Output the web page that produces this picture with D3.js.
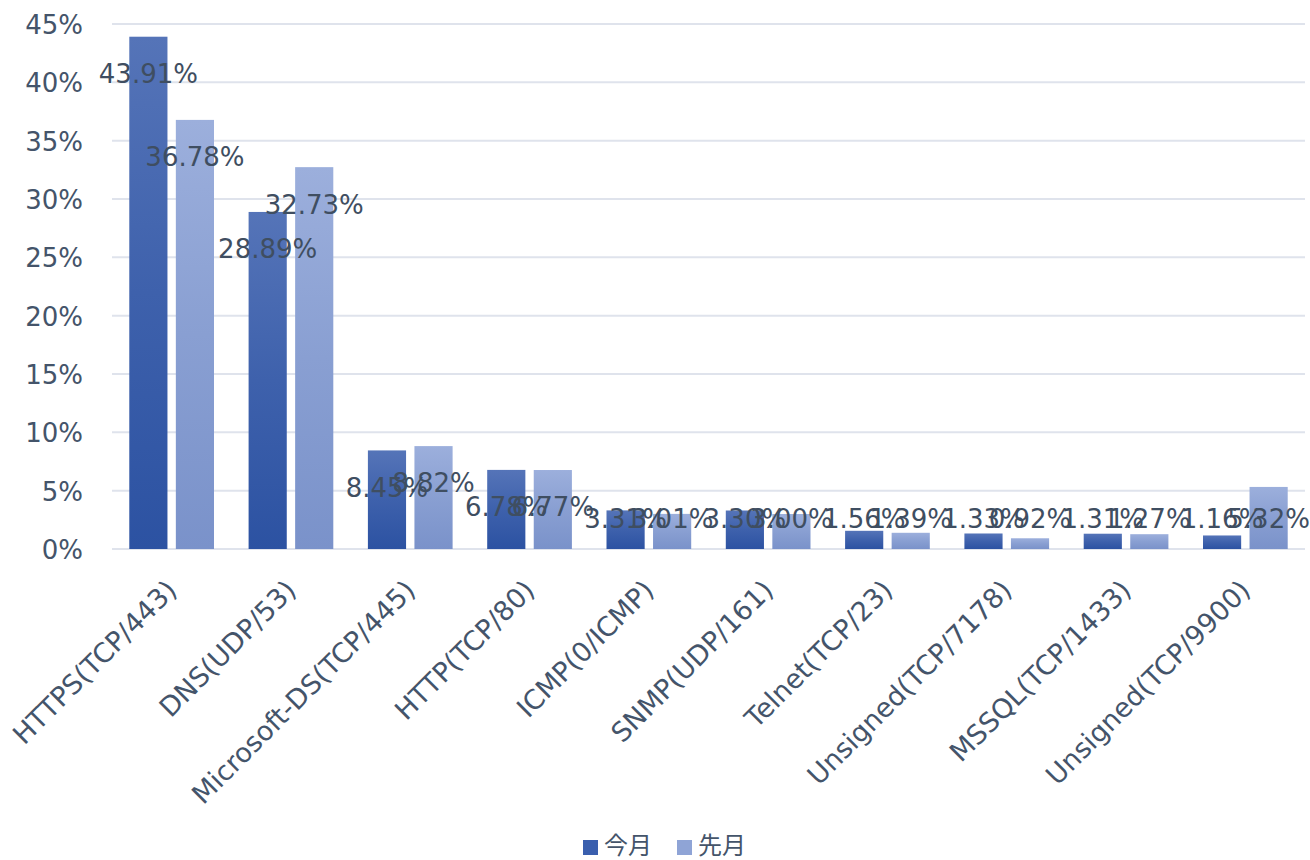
<!DOCTYPE html>
<html><head><meta charset="utf-8">
<script src="https://cdn.jsdelivr.net/npm/d3@7"></script>
<style>
html,body{margin:0;padding:0;background:#fff;}
svg{display:block;font-family:"DejaVu Sans",Verdana,sans-serif;}
</style></head>
<body>
<script>
const categories = ["HTTPS(TCP/443)","DNS(UDP/53)","Microsoft-DS(TCP/445)","HTTP(TCP/80)","ICMP(0/ICMP)","SNMP(UDP/161)","Telnet(TCP/23)","Unsigned(TCP/7178)","MSSQL(TCP/1433)","Unsigned(TCP/9900)"];
const seriesNames = ["今月","先月"];
const thisMonth = [43.91,28.89,8.45,6.78,3.31,3.30,1.56,1.33,1.31,1.16];
const lastMonth = [36.78,32.73,8.82,6.77,3.01,3.00,1.39,0.92,1.27,5.32];
const yTicks = [0,5,10,15,20,25,30,35,40,45];

const W=1310,H=860;
const pLeft=112,pRight=1305,pTop=24,pBottom=549;
const textColor="#44546a";
const fs=26;

const svg=d3.select("body").append("svg").attr("width",W).attr("height",H);
const defs=svg.append("defs");
function grad(id,c1,c2){
  const g=defs.append("linearGradient").attr("id",id).attr("x1",0).attr("y1",0).attr("x2",0).attr("y2",1);
  g.append("stop").attr("offset","0%").attr("stop-color",c1);
  g.append("stop").attr("offset","50%").attr("stop-color",d3.interpolateRgb(c1,c2)(0.55));
  g.append("stop").attr("offset","100%").attr("stop-color",c2);
}
grad("gDark","#5574b8","#2c52a2");
grad("gLight","#9cafdc","#7a92ca");
const fills=["url(#gDark)","url(#gLight)"];
const legendFills=["#3a5fae","#8fa4d6"];

const y=d3.scaleLinear().domain([0,45]).range([pBottom,pTop]);
const x0=d3.scaleBand().domain(categories).range([pLeft,pRight]).paddingInner(0.29).paddingOuter(0.145);
const x1=d3.scaleBand().domain(seriesNames).range([0,x0.bandwidth()]).paddingInner(0.18).paddingOuter(0);

// gridlines
svg.append("g").selectAll("line").data(yTicks).join("line")
  .attr("x1",pLeft).attr("x2",pRight)
  .attr("y1",d=>y(d)).attr("y2",d=>y(d))
  .attr("stroke","#dfe3ec").attr("stroke-width",2);

// y labels
const yAxis=d3.axisLeft(y).tickValues(yTicks).tickFormat(d=>d+"%").tickSize(0).tickPadding(0);
const ga=svg.append("g").attr("transform",`translate(83,0)`).call(yAxis);
ga.select(".domain").remove();
ga.selectAll("text").attr("fill",textColor).style("font-size",fs+"px").style("font-family","'DejaVu Sans',sans-serif").attr("dy","0.36em");

const data=[thisMonth,lastMonth];
// bars
data.forEach((vals,si)=>{
  svg.append("g").selectAll("rect").data(vals).join("rect")
    .attr("x",(d,i)=>x0(categories[i])+x1(seriesNames[si]))
    .attr("width",x1.bandwidth())
    .attr("y",d=>y(d))
    .attr("height",d=>pBottom-y(d))
    .attr("fill",fills[si]);
});
// labels
data.forEach((vals,si)=>{
  svg.append("g").selectAll("text").data(vals).join("text")
    .attr("x",(d,i)=>x0(categories[i])+x1(seriesNames[si])+x1.bandwidth()/2)
    .attr("y",d=>Math.min(y(d)+37,519))
    .attr("dy","0.36em")
    .attr("text-anchor","middle")
    .attr("fill","#3f4e61")
    .style("font-size",fs+"px")
    .text(d=>d.toFixed(2)+"%");
});

// x labels
const xAxis=d3.axisBottom(x0).tickSize(0).tickPadding(0);
const gx=svg.append("g").attr("transform",`translate(0,${pBottom})`).call(xAxis);
gx.select(".domain").remove();
gx.selectAll("text").attr("fill",textColor).style("font-size","27px").style("font-family","'DejaVu Sans',sans-serif")
  .attr("text-anchor","end")
  .attr("transform","translate(0,36) rotate(-45)")
  .attr("y",0).attr("dy","0.35em");

// legend
const lg=svg.append("g");
const legX=[583,677];
seriesNames.forEach((n,i)=>{
  lg.append("rect").attr("x",legX[i]).attr("y",840).attr("width",15).attr("height",15).attr("fill",legendFills[i]);
  lg.append("text").attr("x",legX[i]+21).attr("y",845).attr("dy","0.36em").attr("fill",textColor)
    .style("font-size","24px").style("font-family","'Noto Sans CJK JP',sans-serif").text(n);
});
</script>
</body></html>
